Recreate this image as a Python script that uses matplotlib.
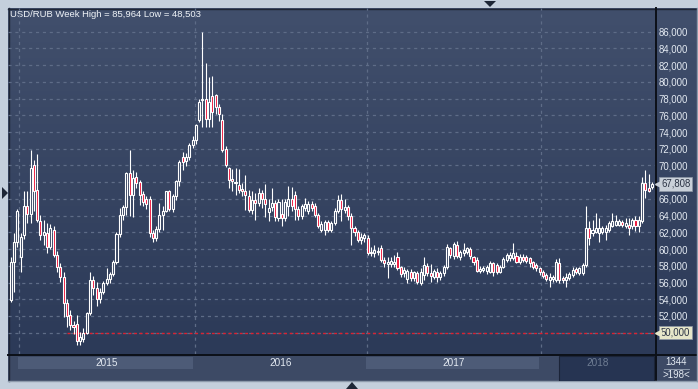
import matplotlib
matplotlib.use("Agg")
import matplotlib.pyplot as plt
import matplotlib.transforms as mtransforms
from matplotlib.patches import Rectangle, Polygon
import numpy as np

# ---------------- data (weekly USD/RUB candles) ----------------
opens = [
    53.9, 58.5, 60.9, 59.1, 61.7, 65.1, 64.2, 70.1, 67.1, 63.3,
    61.7, 61.9, 60.3, 62.3, 59.3, 57.9, 56.7, 53.5, 52.1, 50.9,
    51.0, 49.0, 49.3, 50.0, 52.3, 56.3, 55.3, 54.0, 54.9, 55.9,
    56.4, 57.0, 58.4, 61.8, 64.1, 65.0, 69.1, 66.5, 68.6, 68.0,
    66.6, 66.0, 66.0, 61.9, 61.3, 62.4, 64.1, 64.6, 66.9, 64.8,
    66.4, 68.1, 71.0, 70.5, 71.0, 72.4, 73.1, 75.4, 77.8, 77.9,
    75.5, 78.3, 78.4, 77.0, 75.4, 72.0, 69.7, 68.4, 67.9, 67.7,
    67.2, 67.0, 66.3, 64.7, 65.9, 65.5, 66.7, 66.0, 64.4, 65.0,
    65.5, 63.7, 64.2, 63.7, 65.2, 66.0, 66.5, 64.8, 63.9, 64.9,
    64.5, 65.4, 65.2, 64.1, 62.3, 62.3, 63.2, 62.3, 63.1, 64.5,
    65.9, 64.7, 65.0, 63.9, 62.5, 62.1, 61.1, 61.3, 61.3, 59.5,
    59.5, 59.6, 60.1, 58.7, 58.2, 58.2, 58.2, 59.1, 57.8, 57.1,
    56.4, 57.3, 56.5, 57.1, 56.0, 56.9, 58.0, 57.1, 56.7, 57.2,
    56.6, 57.1, 57.8, 60.1, 59.2, 60.5, 59.1, 59.5, 59.7, 60.0,
    59.0, 58.7, 57.4, 57.5, 57.4, 57.3, 58.3, 58.1, 57.3, 57.9,
    58.7, 58.9, 58.9, 59.2, 58.4, 59.1, 59.1, 58.9, 58.4, 58.1,
    57.7, 57.3, 56.9, 56.3, 56.4, 56.3, 58.3, 56.5, 56.3, 56.5,
    56.9, 57.6, 57.1, 57.1, 58.1, 62.5, 61.9, 62.1, 61.9, 62.1,
    62.1, 62.3, 62.8, 62.9, 62.9, 63.2, 62.7, 62.9, 62.7, 63.5,
    62.7, 63.3, 67.9, 67.3, 67.4,
]
highs = [
    59.0, 61.9, 64.8, 61.9, 66.9, 67.0, 71.85, 70.6, 71.4, 64.1,
    63.5, 63.1, 63.0, 62.7, 59.8, 58.3, 57.3, 54.0, 52.7, 51.4,
    52.1, 50.1, 50.6, 52.5, 57.2, 56.8, 56.1, 55.3, 56.2, 57.7,
    57.3, 58.7, 62.0, 64.9, 65.3, 69.2, 71.8, 69.5, 69.2, 68.3,
    67.0, 66.4, 66.3, 62.3, 62.8, 65.5, 65.1, 67.0, 67.1, 66.6,
    68.3, 70.7, 71.6, 71.5, 72.7, 73.5, 75.0, 78.0, 85.964, 82.2,
    80.6, 80.7, 78.6, 77.3, 76.2, 72.3, 69.8, 69.6, 69.7, 69.6,
    67.9, 68.8, 67.1, 67.0, 66.7, 67.3, 67.1, 67.8, 66.0, 67.3,
    65.9, 66.0, 66.0, 66.0, 67.5, 67.4, 67.0, 65.2, 65.4, 66.1,
    65.7, 65.8, 65.5, 64.3, 63.3, 63.5, 63.5, 63.3, 64.9, 66.5,
    66.6, 66.0, 65.3, 64.3, 62.8, 62.3, 61.9, 61.9, 61.7, 60.2,
    60.5, 60.3, 60.5, 59.0, 59.1, 59.0, 59.3, 59.7, 58.0, 57.8,
    57.6, 57.6, 57.4, 57.4, 57.7, 59.1, 58.3, 58.2, 57.6, 57.7,
    57.4, 58.1, 60.6, 60.3, 60.9, 61.0, 59.9, 60.7, 60.3, 60.2,
    59.2, 59.0, 58.0, 58.0, 58.1, 58.6, 58.5, 58.3, 58.1, 59.0,
    59.5, 59.6, 60.7, 59.6, 59.4, 59.4, 59.3, 59.1, 58.6, 58.3,
    57.8, 57.5, 57.1, 57.1, 56.9, 58.8, 58.9, 56.8, 57.1, 57.2,
    57.9, 57.8, 57.9, 58.3, 65.15, 63.3, 63.5, 64.3, 63.7, 62.8,
    62.9, 63.4, 64.3, 64.1, 63.6, 63.5, 63.7, 63.7, 63.7, 63.9,
    63.9, 68.6, 69.45, 69.0, 68.0,
]
lows = [
    53.7, 54.9, 60.3, 57.3, 61.2, 63.1, 63.1, 64.5, 63.2, 61.1,
    60.5, 59.5, 60.0, 59.1, 57.3, 56.1, 51.9, 50.7, 50.3, 49.8,
    48.503, 48.5, 48.9, 49.8, 52.1, 54.5, 53.2, 53.6, 54.6, 55.7,
    56.0, 56.8, 58.2, 61.5, 63.5, 64.1, 63.9, 63.8, 67.3, 65.3,
    65.2, 64.8, 61.5, 60.9, 61.0, 62.1, 62.3, 64.4, 64.5, 64.4,
    65.9, 67.5, 69.5, 69.9, 70.6, 72.1, 72.6, 75.2, 74.6, 74.6,
    74.6, 74.6, 76.2, 75.3, 71.6, 69.8, 67.3, 67.0, 66.5, 66.7,
    66.3, 64.7, 64.4, 64.2, 63.5, 65.1, 64.9, 63.8, 63.4, 64.6,
    63.3, 63.3, 62.7, 63.4, 63.9, 64.6, 63.5, 63.5, 63.6, 64.6,
    64.2, 64.5, 63.8, 62.5, 62.0, 61.7, 62.0, 62.1, 62.9, 64.3,
    63.4, 64.3, 63.5, 60.5, 61.6, 60.8, 60.6, 60.9, 59.3, 59.2,
    59.1, 59.3, 58.5, 57.9, 56.5, 57.9, 57.8, 57.5, 56.6, 56.7,
    55.9, 56.2, 56.2, 55.8, 55.7, 56.3, 56.8, 56.1, 56.4, 56.1,
    56.3, 56.8, 57.6, 58.9, 58.8, 58.9, 58.7, 59.2, 59.4, 58.8,
    58.1, 57.2, 57.1, 57.2, 57.0, 57.1, 56.8, 57.0, 57.1, 57.7,
    58.5, 58.6, 58.7, 58.3, 58.2, 58.4, 58.3, 57.9, 57.6, 57.4,
    56.9, 56.5, 56.2, 55.5, 56.1, 56.1, 56.0, 56.0, 55.5, 56.3,
    56.7, 57.0, 56.9, 56.9, 57.9, 60.5, 61.6, 61.9, 60.9, 61.8,
    61.1, 62.0, 62.6, 62.7, 62.7, 62.6, 62.5, 61.7, 62.4, 62.2,
    62.1, 63.1, 66.1, 66.8, 67.2,
]
closes = [
    58.5, 60.9, 64.5, 61.5, 65.1, 64.2, 69.7, 66.9, 63.5, 61.7,
    62.1, 60.3, 62.5, 59.3, 57.9, 56.7, 53.6, 52.0, 50.9, 50.7,
    49.0, 49.5, 50.0, 52.3, 56.3, 55.3, 54.0, 54.9, 55.9, 56.4,
    57.0, 58.4, 61.8, 64.1, 65.0, 69.1, 66.5, 68.5, 67.9, 66.5,
    65.6, 65.4, 61.9, 61.3, 62.4, 64.1, 64.6, 66.9, 64.8, 66.4,
    68.1, 70.4, 70.4, 71.0, 72.4, 73.1, 74.8, 77.6, 78.0, 75.5,
    77.6, 76.4, 77.0, 76.2, 71.9, 70.05, 68.3, 68.1, 68.0, 67.1,
    67.0, 66.5, 64.7, 65.9, 65.5, 66.7, 66.0, 65.4, 64.9, 65.5,
    63.8, 65.6, 63.7, 65.6, 66.0, 65.1, 64.8, 63.9, 65.2, 65.4,
    65.4, 64.9, 64.1, 62.8, 63.0, 63.2, 62.3, 63.1, 64.6, 65.9,
    64.8, 65.0, 63.9, 62.5, 62.1, 61.1, 61.5, 61.7, 59.5, 59.7,
    59.9, 59.8, 58.7, 58.3, 58.5, 58.6, 58.5, 57.7, 57.0, 57.5,
    57.4, 56.5, 57.2, 56.1, 57.2, 58.1, 57.1, 56.8, 57.4, 56.6,
    57.1, 57.9, 60.2, 59.3, 60.6, 59.2, 59.7, 59.9, 60.1, 59.2,
    58.5, 57.4, 57.6, 57.7, 57.8, 58.3, 57.3, 57.3, 57.9, 58.8,
    59.3, 59.3, 59.5, 58.5, 59.1, 58.7, 58.6, 58.3, 57.9, 57.7,
    57.3, 56.8, 56.4, 56.6, 56.6, 58.5, 56.3, 56.3, 56.7, 57.0,
    57.5, 57.2, 57.7, 58.1, 62.5, 61.3, 62.3, 62.5, 62.5, 62.5,
    62.5, 63.1, 63.3, 63.3, 63.3, 62.9, 63.1, 62.5, 63.5, 62.7,
    63.5, 67.9, 67.1, 67.0, 67.808,
]

title_text = "USD/RUB Week High = 85,964 Low = 48,503"
tick_values = [52, 54, 56, 58, 60, 62, 64, 66, 70, 72, 74, 76, 78, 80, 82, 84, 86]
tick_labels = ["52,000", "54,000", "56,000", "58,000", "60,000", "62,000", "64,000",
               "66,000", "70,000", "72,000", "74,000", "76,000", "78,000", "80,000",
               "82,000", "84,000", "86,000"]
grid_values = [50, 52, 54, 56, 58, 60, 62, 64, 66, 68, 70, 72, 74, 76, 78, 80, 82, 84, 86]
year_labels = ["2015", "2016", "2017", "2018"]
year_bounds = [2.4, 55.6, 107.8, 160.4, 194.9]   # week index of each year start
last_price = 67.808
last_label = "67,808"
alert_price = 50.0
alert_label = "50,000"
alert_start = 17.0
bar_total = "1344"
bars_visible = ">198<"

# ---------------- styling ----------------
W, H = 698, 389
FRAME = "#c4cfdc"
STRIP = "#3d4a65"
BAND = "#4d5b77"
GRID = "#5e6c87"
TXT = "#e4eaf2"
UPFACE = "#34425f"
DNFACE = "#ee1238"
FONT = "Liberation Sans"

fig = plt.figure(figsize=(W / 100, H / 100), dpi=100)
fig.patch.set_facecolor(FRAME)

# background / decorations in pixel coordinates
bg = fig.add_axes([0, 0, 1, 1], zorder=-5)
bg.set_xlim(0, W)
bg.set_ylim(H, 0)
bg.axis("off")
grad = np.linspace(0, 1, 256).reshape(-1, 1)
top_c = np.array([0x41, 0x4f, 0x6c]) / 255
bot_c = np.array([0x2c, 0x3a, 0x58]) / 255
img = top_c[None, None, :] * (1 - grad[:, :, None]) + bot_c[None, None, :] * grad[:, :, None]
bg.imshow(img, extent=[8, 697, 355, 8], aspect="auto", zorder=0, interpolation="bilinear")
bg.add_patch(Rectangle((8, 355), 689, 26, facecolor=STRIP, edgecolor="none", zorder=1))
bg.plot([8, 697], [8.5, 8.5], color="#1f2636", lw=1.0, zorder=3)
bg.plot([8.5, 8.5], [8, 381], color="#1f2636", lw=1.0, zorder=3)
bg.plot([8, 697], [354.5, 354.5], color="#0c1018", lw=1.4, zorder=3)
bg.plot([655.5, 655.5], [8, 381], color="#0c1018", lw=1.4, zorder=3)
bg.plot([696.5, 696.5], [8, 381], color="#8d9aab", lw=1.0, zorder=3)
bg.plot([8, 697], [381, 381], color="#8d9aab", lw=1.0, zorder=3)
# little navigation triangles in the frame
bg.add_patch(Polygon([[484, 1], [496, 1], [490, 7]], closed=True, facecolor="#1d2636", zorder=4))
bg.add_patch(Polygon([[2, 187], [2, 199], [8, 193]], closed=True, facecolor="#1d2636", zorder=4))
bg.add_patch(Polygon([[346, 389], [358, 389], [352, 382]], closed=True, facecolor="#1d2636", zorder=4))
# bar counter cell
bg.text(676, 362, bar_total, color=TXT, fontsize=7.0, family=FONT, ha="center", va="center", zorder=5)
bg.plot([664, 689], [368.5, 368.5], color="#9aa6b6", lw=0.6, zorder=5)
bg.text(676, 375, bars_visible, color=TXT, fontsize=7.0, family=FONT, ha="center", va="center", zorder=5)
# title
bg.text(10, 14.5, title_text, color="#f0f4f8", fontsize=6.8, family=FONT, ha="left", va="center", zorder=5)

# main chart axes
ax = fig.add_axes([8 / W, 1 - 354 / H, 647 / W, 346 / H], zorder=2)
ax.patch.set_alpha(0)
x = np.arange(len(closes))
ax.set_xlim(-0.82, 194.9)
ax.set_ylim(47.45, 88.83)
for s in ax.spines.values():
    s.set_visible(False)

# grid
for g in grid_values:
    ax.axhline(g, color=GRID, lw=0.9, ls=(0, (2.5, 3)), zorder=1)
for b in year_bounds[:4]:
    ax.axvline(b, color=GRID, lw=0.9, ls=(0, (2.5, 3)), zorder=1)
ax.plot([alert_start, 194.9], [alert_price, alert_price], color="#e0202f", lw=1.0,
        ls=(0, (2, 2)), zorder=2)

# candles
o = np.array(opens); h = np.array(highs); l = np.array(lows); c = np.array(closes)
up = c >= o
ax.vlines(x, l, h, color="white", lw=0.8, zorder=3)
body_bot = np.minimum(o, c)
body_h = np.maximum(np.abs(c - o), 0.08)
faces = [UPFACE if u else DNFACE for u in up]
ax.bar(x, body_h, bottom=body_bot, width=0.62, color=faces, edgecolor="white",
       linewidth=0.8, zorder=4)

# right price axis
ax.yaxis.tick_right()
ax.set_yticks(tick_values)
ax.set_yticklabels(tick_labels)
ax.tick_params(axis="y", length=0, pad=2.4, labelsize=6.9, labelcolor=TXT)
for t in ax.get_yticklabels():
    t.set_family(FONT)
ax.set_xticks([])

# price tags
bt = mtransforms.blended_transform_factory(ax.transAxes, ax.transData)
for val, lab, fc in [(last_price, last_label, "#c9d0d9"), (alert_price, alert_label, "#e6e6c9")]:
    ax.text(1.0095, val, lab, transform=bt, color="#2a3244", fontsize=6.9, family=FONT,
            ha="left", va="center", clip_on=False, zorder=6,
            bbox=dict(boxstyle="square,pad=0.18", facecolor=fc, edgecolor="#8e98a6", lw=0.5))
    ax.plot([1.004], [val], marker="<", ms=4.2, color=fc, transform=bt, clip_on=False, zorder=7)

# year strip
st = fig.add_axes([8 / W, 1 - 381 / H, 647 / W, 26 / H], zorder=1)
st.patch.set_alpha(0)
st.set_xlim(-0.82, 194.9)
st.set_ylim(26, 0)
st.axis("off")
for k, lab in enumerate(year_labels):
    a, b = year_bounds[k], year_bounds[k + 1]
    if k in (0, 2):
        st.add_patch(Rectangle((a - 0.25, 1.5), b - a - 0.3, 12.5, facecolor=BAND, edgecolor="none"))
    if k == 3:
        st.add_patch(Rectangle((165.8, 0.6), 28.7, 25, facecolor="#263452", edgecolor="#1b2438", lw=0.8))
        st.text((a + b) / 2, 8, lab, color="#6f7d93", fontsize=7.2, family=FONT, ha="center", va="center")
    else:
        st.text((a + b) / 2, 8, lab, color=TXT, fontsize=7.2, family=FONT, ha="center", va="center")

fig.savefig("out.png", dpi=100, facecolor=FRAME)
